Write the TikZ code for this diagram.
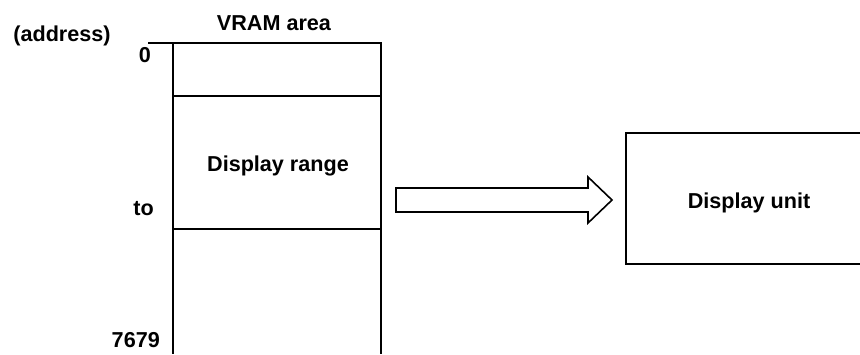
\documentclass[tikz,border=0pt]{standalone}
\usepackage{fontspec}
\setmainfont{Liberation Sans}
\usepackage{tikz}
\usetikzlibrary{positioning}

\begin{document}
\begin{tikzpicture}[
 x=1pt,y=-1pt,
 every node/.style={font=\bfseries\fontsize{21.6}{25}\selectfont,inner sep=0pt},
 lbl/.style={anchor=base},
 addr/.style={anchor=base east},
 wall/.style={line width=1.7pt,draw=black},
 blockarrow/.style={line width=1.6pt,draw=black,fill=white,line join=miter}
]
\useasboundingbox (0,0) rectangle (860,354);

% VRAM column
\node[lbl] (head) at (62,41) {(address)};
\node[lbl] (vram) at (274,30) {VRAM area};
\node[addr] (a0) at (151,62) {0};
\node[addr] (ato) at (154,215) {to};
\node[addr] (aend) at (160,347) {7679};
\draw[wall] (148,43) -- (381,43) -- (381,354);
\draw[wall] (173,43) -- (173,354);
\draw[wall] (173,96) -- (381,96);
\draw[wall] (173,229) -- (381,229);
\node[lbl] (range) at (278,171) {Display range};

% transfer
\draw[blockarrow] (396,188) -- (588,188) -- (588,177) -- (612,200) -- (588,223)
 -- (588,212) -- (396,212) -- cycle;

% display unit, open to the right
\node[lbl] (unit) at (749,208) {Display unit};
\draw[wall] (860,133) -- (626,133) -- (626,264) -- (860,264);
\end{tikzpicture}
\end{document}
